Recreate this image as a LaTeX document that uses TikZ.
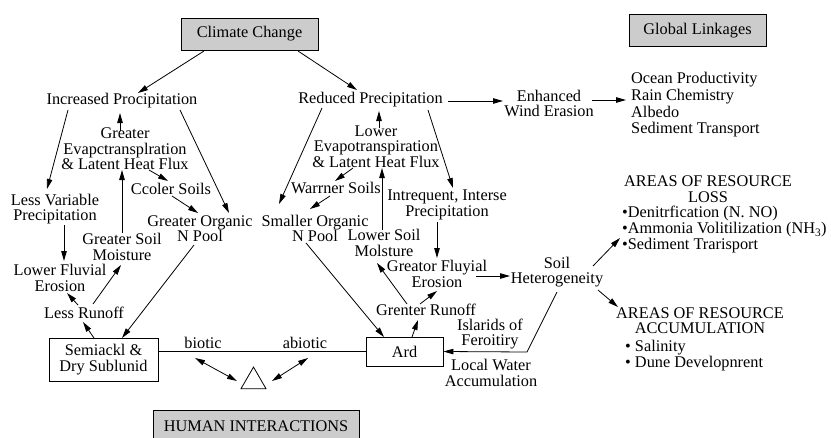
\documentclass[tikz,border=0pt]{standalone}
\usepackage{fontspec}
\setmainfont{Liberation Serif}
\usetikzlibrary{arrows.meta,shapes.geometric}
\begin{document}
\begin{tikzpicture}[x=1pt,y=-1pt,
  every node/.style={inner sep=0pt, font=\fontsize{16.3}{15.5}\selectfont},
  lbl/.style={align=center},
  gbox/.style={draw, line width=0.9pt, fill=black!20, minimum width=137pt, minimum height=32pt},
  wbox/.style={draw, line width=0.9pt, fill=white, align=center},
  arr/.style={line width=0.8pt, -{Triangle[length=10pt,width=5.5pt]}},
  darr/.style={line width=0.8pt, {Triangle[length=10pt,width=5.5pt]}-{Triangle[length=10pt,width=5.5pt]}},
  plain/.style={line width=0.8pt}]
\useasboundingbox (0,0) rectangle (831,437);

% nodes
\node[gbox] (cc) at (249.5,34) {Climate Change};
\node[gbox] (gl) at (697.5,30.5) {Global Linkages};
\node[lbl] (inc) at (122,101) {Increased Procipitation};
\node[lbl] (red) at (370.5,100) {Reduced Precipitation};
\node[lbl] (wind) at (549,103.5) {Enhanced\\Wind Erasion};
\node[align=left, anchor=west, font=\fontsize{16.3}{16.7}\selectfont] (ocean) at (631,105) {Ocean Productivity\\Rain Chemistry\\Albedo\\Sediment Transport};
\node[lbl] (gET) at (125,148.7) {Greater\\Evapctransplration\\\& Latent Heat Flux};
\node[lbl] (lET) at (376,146.7) {Lower\\Evapotranspiration\\\& Latent Heat Flux};
\node[lbl] (cool) at (171,189) {Ccoler Soils};
\node[lbl] (warm) at (336,188) {Warrner Soils};
\node[lbl] (lessvar) at (55,209) {Less Variable\\Precipitation};
\node[lbl] (gorg) at (200,228.5) {Greater Organic\\N Pool};
\node[lbl] (sorg) at (315,228.5) {Smaller Organic\\N Pool};
\node[lbl] (intr) at (447,205) {Intrequent, Interse\\Precipitation};
\node[lbl] (gsm) at (122,247) {Greater Soil\\Moisture};
\node[lbl] (lsm) at (384,243) {Lower Soil\\Molsture};
\node[lbl] (lfe) at (60,278) {Lower Fluvial\\Erosion};
\node[lbl] (gfe) at (437,274) {Greator Fluyial\\Erosion};
\node[lbl] (soilh) at (557,272) {Soil\\Heterogeneity};
\node[lbl] (lrun) at (84,313) {Less Runoff};
\node[lbl] (grun) at (426,310) {Grenter Runoff};
\node[lbl] (isl) at (490,334) {Islarids of\\Feroitiry};
\node[lbl] (lwa) at (491,373) {Local Water\\Accumulation};
\node[wbox, minimum width=109pt, minimum height=43pt, font=\fontsize{16.3}{16}\selectfont] (semi) at (103.5,359.5) {Semiackl \&\\Dry Sublunid};
\node[wbox, minimum width=77pt, minimum height=29pt] (ard) at (404.5,351.5) {Ard};
\node (biotic) at (203,343) {biotic};
\node (abiotic) at (305,343) {abiotic};
\node[draw, line width=0.8pt, regular polygon, regular polygon sides=3, minimum size=28.9pt] (tri) at (253.5,381.5) {};
\node[gbox, minimum width=206pt, minimum height=31pt] (hum) at (256,426) {HUMAN INTERACTIONS};
\node[lbl, font=\fontsize{16.3}{16}\selectfont] (loss) at (708,189.5) {AREAS OF RESOURCE\\LOSS};
\node[align=left, anchor=west, font=\fontsize{16.3}{14.5}\selectfont] (losslist) at (622,229.5) {•Denitrfication (N. NO)\\•Ammonia Volitilization (NH\textsubscript{3})\\•Sediment Trarisport};
\node[lbl] (acc) at (700,320.5) {AREAS OF RESOURCE\\ACCUMULATION};
\node[align=left, anchor=west] (acclist) at (625,355.5) {• Salinity\\• Dune Developnrent};
\coordinate (bend) at (527,352);

% connectors
\draw[arr] ([shift={(-45.5,17)}]cc.center) -- ([shift={(16,-8)}]inc.center);
\draw[arr] ([shift={(48.5,17)}]cc.center) -- ([shift={(-13.5,-10)}]red.center);
\draw[arr] ([shift={(-54,9)}]inc.center) -- ([shift={(-8,-20)}]lessvar.center);
\draw[arr] ([shift={(58,9)}]inc.center) -- ([shift={(29,-15.5)}]gorg.center);
\draw[arr] ([shift={(-5,-17.7)}]gET.center) -- ([shift={(-2,12)}]inc.center);
\draw[arr] ([shift={(24,21.3)}]gET.center) -- ([shift={(-3,-8)}]cool.center);
\draw[arr] ([shift={(1,7)}]cool.center) -- ([shift={(-2,-15.5)}]gorg.center);
\draw[arr] ([shift={(0,-14)}]gsm.center) -- ([shift={(-3,21.3)}]gET.center);
\draw[arr] ([shift={(9,16)}]lessvar.center) -- ([shift={(4,-17)}]lfe.center);
\draw[arr] ([shift={(-6,-8)}]lrun.center) -- ([shift={(7,15)}]lfe.center);
\draw[arr] ([shift={(9,-9)}]lrun.center) -- ([shift={(-1,18)}]gsm.center);
\draw[arr] ([shift={(-9.5,-21.5)}]semi.center) -- ([shift={(-1,9)}]lrun.center);
\draw[arr] ([shift={(-6,16.5)}]gorg.center) -- ([shift={(18.5,-21.5)}]semi.center);
\draw[arr] ([shift={(-48.5,8)}]red.center) -- ([shift={(-36,-24.5)}]sorg.center);
\draw[arr] ([shift={(57.5,10)}]red.center) -- ([shift={(6,-17)}]intr.center);
\draw[arr] ([shift={(77.5,1)}]red.center) -- ([shift={(-46,-2.5)}]wind.center);
\draw[arr] ([shift={(43,-3.5)}]wind.center) -- ([shift={(-5,-5)}]ocean.west);
\draw[arr] ([shift={(3,-18.7)}]lET.center) -- ([shift={(8.5,11)}]red.center);
\draw[arr] ([shift={(-23,21.3)}]lET.center) -- ([shift={(-1,-7)}]warm.center);
\draw[arr] ([shift={(-6,8)}]warm.center) -- ([shift={(-5,-19.5)}]sorg.center);
\draw[arr] ([shift={(-2,-13)}]lsm.center) -- ([shift={(6,21.3)}]lET.center);
\draw[arr] ([shift={(-10,17)}]intr.center) -- ([shift={(0,-16)}]gfe.center);
\draw[arr] ([shift={(39,2)}]gfe.center) -- ([shift={(-47,4)}]soilh.center);
\draw[arr] ([shift={(-19,-6)}]grun.center) -- ([shift={(-7,20)}]lsm.center);
\draw[arr] ([shift={(-6,-6)}]grun.center) -- ([shift={(0,17)}]gfe.center);
\draw[arr] ([shift={(7.5,-14.5)}]ard.center) -- ([shift={(-8,10)}]grun.center);
\draw[arr] ([shift={(-9,14.5)}]sorg.center) -- ([shift={(-20.5,-14.5)}]ard.center);
\draw[arr] ([shift={(0,20)}]soilh.center) -- (bend) -- (ard.east);
\draw[arr] ([shift={(36,-6)}]soilh.center) -- ([shift={(-2,8.5)}]losslist.west);
\draw[arr] ([shift={(41,18)}]soilh.center) -- ([shift={(-82,-13.5)}]acc.center);
\draw[plain] (ard.west) -- (ard.west -| semi.east);
\draw[darr] ([shift={(-8,15)}]biotic.center) -- ([shift={(-16.5,-0.5)}]tri.center);
\draw[darr] ([shift={(3,15)}]abiotic.center) -- ([shift={(18.5,-0.5)}]tri.center);
\end{tikzpicture}
\end{document}
